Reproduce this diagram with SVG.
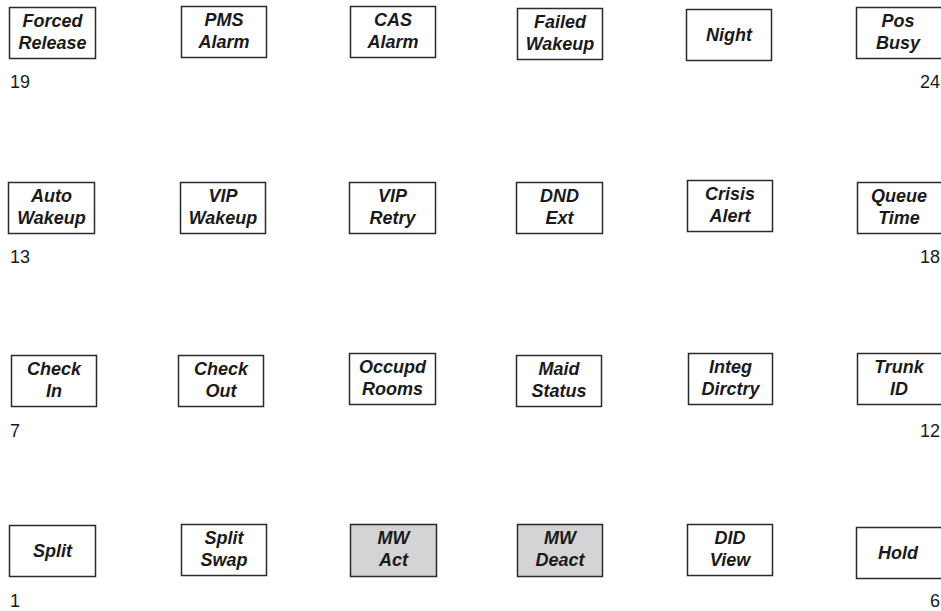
<svg xmlns="http://www.w3.org/2000/svg" width="941" height="611" viewBox="0 0 941 611">
<style>
.b{fill:#fff;stroke:#2a2a2a;stroke-width:1.5}
.g{fill:#d4d4d4}
.t{font-family:"Liberation Sans",Arial,sans-serif;font-weight:bold;font-style:italic;font-size:18px;fill:#1a1a1a;text-anchor:middle}
.n{font-family:"Liberation Sans",Arial,sans-serif;font-size:18px;fill:#1a1a1a}
</style>
<rect width="941" height="611" fill="#fff"/>
<g id="k19"><rect class="b" x="9.5" y="7.5" width="86" height="51"/><text class="t" x="52.5" y="27">Forced</text><text class="t" x="52.5" y="49">Release</text></g>
<g id="k20"><rect class="b" x="181.5" y="6.5" width="85" height="51"/><text class="t" x="224" y="26">PMS</text><text class="t" x="224" y="48">Alarm</text></g>
<g id="k21"><rect class="b" x="350.5" y="6.5" width="85" height="51"/><text class="t" x="393" y="26">CAS</text><text class="t" x="393" y="48">Alarm</text></g>
<g id="k22"><rect class="b" x="517.5" y="8.5" width="85" height="51"/><text class="t" x="560" y="28">Failed</text><text class="t" x="560" y="50">Wakeup</text></g>
<g id="k23"><rect class="b" x="686.5" y="9.5" width="85" height="51"/><text class="t" x="729" y="41">Night</text></g>
<g id="k24"><rect class="b" x="856.5" y="7.5" width="86" height="51"/><text class="t" x="898" y="27">Pos</text><text class="t" x="898" y="49">Busy</text></g>

<g id="k13"><rect class="b" x="8.5" y="182.5" width="86" height="51"/><text class="t" x="51.5" y="202">Auto</text><text class="t" x="51.5" y="224">Wakeup</text></g>
<g id="k14"><rect class="b" x="180.5" y="182.5" width="85" height="51"/><text class="t" x="223" y="202">VIP</text><text class="t" x="223" y="224">Wakeup</text></g>
<g id="k15"><rect class="b" x="349.5" y="182.5" width="86" height="51"/><text class="t" x="392.5" y="202">VIP</text><text class="t" x="392.5" y="224">Retry</text></g>
<g id="k16"><rect class="b" x="516.5" y="182.5" width="86" height="51"/><text class="t" x="559.5" y="202">DND</text><text class="t" x="559.5" y="224">Ext</text></g>
<g id="k17"><rect class="b" x="687.5" y="180.5" width="85" height="51"/><text class="t" x="730" y="200">Crisis</text><text class="t" x="730" y="222">Alert</text></g>
<g id="k18"><rect class="b" x="857.5" y="182.5" width="85" height="51"/><text class="t" x="899" y="202">Queue</text><text class="t" x="899" y="224">Time</text></g>

<g id="k7"><rect class="b" x="11.5" y="355.5" width="85" height="51"/><text class="t" x="54" y="375">Check</text><text class="t" x="54" y="397">In</text></g>
<g id="k8"><rect class="b" x="178.5" y="355.5" width="85" height="51"/><text class="t" x="221" y="375">Check</text><text class="t" x="221" y="397">Out</text></g>
<g id="k9"><rect class="b" x="349.5" y="353.5" width="86" height="51"/><text class="t" x="392.5" y="373">Occupd</text><text class="t" x="392.5" y="395">Rooms</text></g>
<g id="k10"><rect class="b" x="516.5" y="355.5" width="85" height="51"/><text class="t" x="559" y="375">Maid</text><text class="t" x="559" y="397">Status</text></g>
<g id="k11"><rect class="b" x="688.5" y="353.5" width="84" height="51"/><text class="t" x="730.5" y="373">Integ</text><text class="t" x="730.5" y="395">Dirctry</text></g>
<g id="k12"><rect class="b" x="857.5" y="353.5" width="85" height="51"/><text class="t" x="899" y="373">Trunk</text><text class="t" x="899" y="395">ID</text></g>

<g id="k1"><rect class="b" x="9.5" y="525.5" width="86" height="51"/><text class="t" x="52.5" y="557">Split</text></g>
<g id="k2"><rect class="b" x="181.5" y="524.5" width="85" height="51"/><text class="t" x="224" y="544">Split</text><text class="t" x="224" y="566">Swap</text></g>
<g id="k3"><rect class="b g" x="350.5" y="524.5" width="86" height="52"/><text class="t" x="393.5" y="544">MW</text><text class="t" x="393.5" y="566">Act</text></g>
<g id="k4"><rect class="b g" x="517.5" y="524.5" width="85" height="52"/><text class="t" x="560" y="544">MW</text><text class="t" x="560" y="566">Deact</text></g>
<g id="k5"><rect class="b" x="687.5" y="524.5" width="85" height="51"/><text class="t" x="730" y="544">DID</text><text class="t" x="730" y="566">View</text></g>
<g id="k6"><rect class="b" x="856.5" y="527.5" width="86" height="51"/><text class="t" x="898" y="559">Hold</text></g>

<g id="numbers">
<text class="n" x="10" y="88">19</text>
<text class="n" x="940" y="88" text-anchor="end">24</text>
<text class="n" x="10" y="263">13</text>
<text class="n" x="940" y="263" text-anchor="end">18</text>
<text class="n" x="10" y="437">7</text>
<text class="n" x="940" y="437" text-anchor="end">12</text>
<text class="n" x="10" y="607">1</text>
<text class="n" x="940" y="607" text-anchor="end">6</text>
</g>
</svg>
